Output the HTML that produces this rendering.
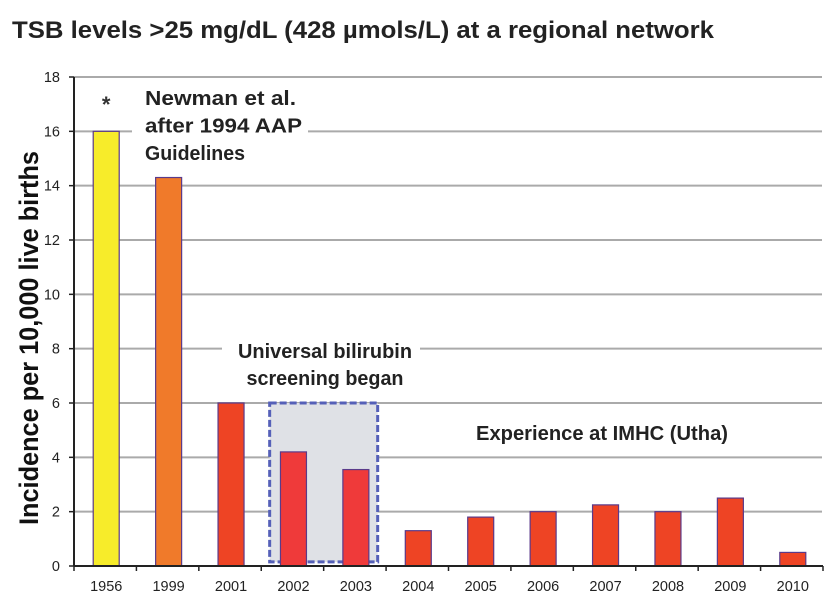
<!DOCTYPE html>
<html><head><meta charset="utf-8"><style>
html,body{margin:0;padding:0;background:#fff;}
body{width:839px;height:602px;overflow:hidden;font-family:"Liberation Sans",sans-serif;}
</style></head><body>
<svg id="chart" width="839" height="602" xmlns="http://www.w3.org/2000/svg"></svg>
<script>
const categories = ["1956","1999","2001","2002","2003","2004","2005","2006","2007","2008","2009","2010"];
const values = [16, 14.3, 6, 4.2, 3.55, 1.3, 1.8, 2.0, 2.25, 2.0, 2.5, 0.5];
const colors = ["#f7ec2a","#f07a2a","#ee4424","#ef3a3a","#ef3a3a","#ee4424","#ee4424","#ee4424","#ee4424","#ee4424","#ee4424","#ee4424"];
const yTicks = [0,2,4,6,8,10,12,14,16,18];

const NS="http://www.w3.org/2000/svg";
const svg=document.getElementById('chart');
const L=74,R=823,T=77,B=566,YMAX=18;
const band=(R-L)/categories.length;
const y=v=>B-(v/YMAX)*(B-T);
const xc=i=>L+band*(i+0.5);
function mk(tag,attrs,parent){const e=document.createElementNS(NS,tag);for(const k in attrs)e.setAttribute(k,attrs[k]);(parent||svg).appendChild(e);return e;}

const title=mk('text',{x:12,y:38,'font-size':24,'font-weight':'bold',fill:'#222',textLength:702,lengthAdjust:'spacingAndGlyphs'});


title.textContent='TSB levels >25 mg/dL (428 µmols/L) at a regional network';

const yt=mk('text',{transform:'translate(38,338) rotate(-90)','text-anchor':'middle','font-size':27,'font-weight':'bold',fill:'#111',textLength:374,lengthAdjust:'spacingAndGlyphs'});


yt.textContent='Incidence per 10,000 live births';

yTicks.forEach(t=>{
  if(t>0){const g=mk('line',{x1:L,x2:R-1,y1:y(t),y2:y(t),stroke:'#aaa','stroke-width':2});
  
  }
  mk('line',{x1:L-5,x2:L,y1:y(t),y2:y(t),stroke:'#222','stroke-width':1.5});
  const lb=mk('text',{x:L-14,y:y(t)+5,'text-anchor':'end','font-size':14.5,fill:'#222'});
  
  
  lb.textContent=t;
});
// white gaps behind annotations
mk('rect',{x:132,y:84,width:176,height:84,fill:'#fff'});
mk('rect',{x:222,y:335,width:198,height:60,fill:'#fff'});
mk('rect',{x:466,y:418,width:272,height:32,fill:'#fff'});

// dashed box
const box=mk('rect',{x:L+band*4-54,y:y(6),width:108,height:y(0.15)-y(6),fill:'#dfe1e6',stroke:'#5560b8','stroke-width':3,'stroke-dasharray':'7,3'});



categories.forEach((c,i)=>{
  const w=26;
  const b=mk('rect',{x:xc(i)-w/2+1,y:y(values[i]),width:w,height:B-y(values[i]),fill:colors[i],stroke:'#5a3a8a','stroke-width':1.2});
  
  
  const lb=mk('text',{x:xc(i)+1,y:591,'text-anchor':'middle','font-size':14.5,fill:'#222'});
  
  
  lb.textContent=c;
});
for(let i=0;i<=categories.length;i++){mk('line',{x1:L+band*i,x2:L+band*i,y1:B,y2:B+5,stroke:'#222','stroke-width':1.5});}
const ax=mk('line',{x1:L,x2:R,y1:B,y2:B,stroke:'#222','stroke-width':2});


const ay=mk('line',{x1:L,x2:L,y1:T,y2:B,stroke:'#222','stroke-width':2});



const star=mk('text',{x:xc(0)+1,y:112,'text-anchor':'middle','font-size':22,'font-weight':'bold',fill:'#333'});


star.textContent='*';

function para(lines,widths,x0,y0,lh,anchor,name){
  const t=mk('text',{'font-size':20,'font-weight':'bold',fill:'#222','text-anchor':anchor});
  
  
  lines.forEach((s,k)=>{const ts=mk('tspan',{x:x0,y:y0+k*lh,textLength:widths[k],lengthAdjust:'spacingAndGlyphs'},t);ts.textContent=s;});
}
para(['Newman et al.','after 1994 AAP','Guidelines'],[151,157,100],145,105,27.5,'start','newman-annotation');
para(['Universal bilirubin','screening began'],[174,157],325,358,27,'middle','screening-annotation');
para(['Experience at IMHC (Utha)'],[252],602,440,0,'middle','imhc-annotation');
</script>
</body></html>
